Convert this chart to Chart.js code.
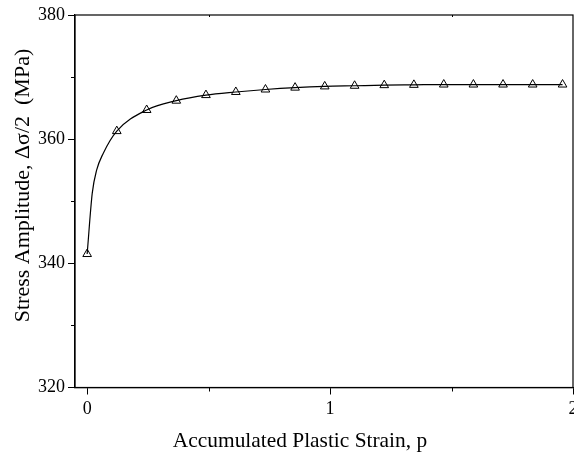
<!DOCTYPE html>
<html>
<head>
<meta charset="utf-8">
<script src="https://cdn.jsdelivr.net/npm/chart.js@4"></script>
<style>
  html, body { margin: 0; padding: 0; background: #fff; }
  #wrap { width: 574px; height: 455px; }
</style>
</head>
<body>
<div id="wrap"><canvas id="stressChart" width="574" height="455"></canvas></div>
<script>
// Points mesurés (triangles)
const strain = [0, 0.122, 0.245, 0.367, 0.489, 0.612, 0.734, 0.856, 0.978, 1.101, 1.223, 1.345, 1.468, 1.590, 1.712, 1.834, 1.957];
const stress = [341.5, 361.3, 364.7, 366.2, 367.1, 367.6, 368.0, 368.3, 368.5, 368.6, 368.7, 368.75, 368.8, 368.8, 368.8, 368.8, 368.8];

// Courbe lissée (quelques points lus en plus au début)
const curveStrain = [0, 0.021, 0.039, 0.066, 0.122, 0.245, 0.367, 0.489, 0.612, 0.734, 0.856, 0.978, 1.101, 1.223, 1.345, 1.468, 1.590, 1.712, 1.834, 1.957];
const curveStress = [341.5, 351.3, 355.0, 357.7, 361.3, 364.7, 366.2, 367.1, 367.6, 368.0, 368.3, 368.5, 368.6, 368.7, 368.75, 368.8, 368.8, 368.8, 368.8, 368.8];

const xMajor = [0, 1, 2];
const xMinor = [0.5, 1.5];
const yMajor = [320, 340, 360, 380];
const yMinor = [330, 350, 370];

const titreX = "Accumulated Plastic Strain, p";
const titreY = "Stress Amplitude, \u0394\u03c3/2  (MPa)";

const police = "'Liberation Serif', 'DejaVu Serif', serif";

// Cadre, petites graduations et titres des axes
const cadrePlugin = {
    id: "cadre",
    afterDraw(chart) {
        const { ctx, chartArea: a, scales } = chart;
        ctx.save();
        ctx.strokeStyle = "#000";
        ctx.lineWidth = 1.2;
        ctx.strokeRect(a.left, a.top, a.right - a.left, a.bottom - a.top);
        ctx.beginPath();
        xMinor.forEach(v => {
            const px = Math.round(scales.x.getPixelForValue(v)) + 0.5;
            ctx.moveTo(px, a.bottom);
            ctx.lineTo(px, a.bottom + 4);
            ctx.moveTo(px, a.top);
            ctx.lineTo(px, a.top + 2);
        });
        yMinor.forEach(v => {
            const py = Math.round(scales.y.getPixelForValue(v)) + 0.5;
            ctx.moveTo(a.left, py);
            ctx.lineTo(a.left - 4, py);
        });
        ctx.lineWidth = 1;
        ctx.stroke();

        ctx.fillStyle = "#000";
        ctx.textAlign = "center";
        ctx.textBaseline = "alphabetic";
        ctx.font = "21.4px " + police;
        ctx.fillText(titreX, 300, 447);
        ctx.font = "22px " + police;
        ctx.translate(28.5, 185.5);
        ctx.rotate(-Math.PI / 2);
        ctx.fillText(titreY, 0, 0);
        ctx.restore();
    }
};

const ctx = document.getElementById("stressChart").getContext("2d");
new Chart(ctx, {
    type: "scatter",
    data: {
        datasets: [
            {
                label: "courbe",
                data: curveStrain.map((x, i) => ({ x: x, y: curveStress[i] })),
                showLine: true,
                borderColor: "#000",
                borderWidth: 1.2,
                pointRadius: 0,
                cubicInterpolationMode: "monotone",
                fill: false,
            },
            {
                label: "points",
                data: strain.map((x, i) => ({ x: x, y: stress[i] })),
                showLine: false,
                pointStyle: "triangle",
                pointRadius: 5,
                pointBackgroundColor: "#fff",
                pointBorderColor: "#000",
                pointBorderWidth: 1,
            },
        ],
    },
    options: {
        responsive: false,
        animation: false,
        layout: { autoPadding: false, padding: { top: 15, right: 1, left: 0, bottom: 0 } },
        plugins: {
            legend: { display: false },
            tooltip: { enabled: false },
        },
        scales: {
            x: {
                type: "linear",
                min: -0.05,
                max: 2,
                afterBuildTicks: (scale) => { scale.ticks = xMajor.map(v => ({ value: v })); },
                afterFit: (scale) => { scale.height = 67.5; scale.paddingLeft = 0; scale.paddingRight = 0; },
                grid: { drawOnChartArea: false, tickLength: 7, color: "#000", tickWidth: 1 },
                border: { color: "#000", width: 1.2 },
                ticks: {
                    color: "#000",
                    padding: 4,
                    maxRotation: 0,
                    font: { family: police, size: 18 },
                    callback: (v) => String(v),
                },
            },
            y: {
                min: 320,
                max: 380,
                afterBuildTicks: (scale) => { scale.ticks = yMajor.map(v => ({ value: v })); },
                afterFit: (scale) => { scale.width = 75; },
                grid: { drawOnChartArea: false, tickLength: 7, color: "#000", tickWidth: 1 },
                border: { color: "#000", width: 1.2 },
                ticks: {
                    color: "#000",
                    padding: 3,
                    font: { family: police, size: 18 },
                },
            },
        },
    },
    plugins: [cadrePlugin],
});
</script>
</body>
</html>
